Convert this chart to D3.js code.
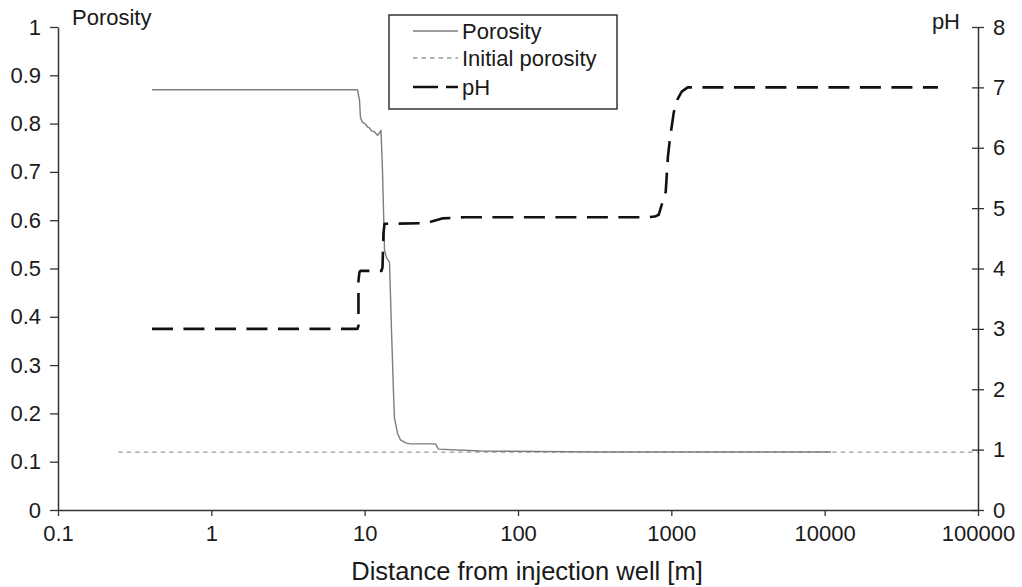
<!DOCTYPE html>
<html>
<head>
<meta charset="utf-8">
<script src="https://cdn.jsdelivr.net/npm/d3@7"></script>
<style>
  html, body { margin: 0; padding: 0; background: #fff; }
  svg { display: block; font-family: "Liberation Sans", Arial, sans-serif; }
</style>
</head>
<body>
<svg id="chart" width="1022" height="587"></svg>
<script>
// Distance from injection well [m]
const porosityX = [0.41, 8.98, 9.25, 9.39, 9.67, 10.12, 10.43, 10.75, 11.08, 11.59, 12.12, 12.5, 12.78, 13.07, 13.27, 13.47, 13.88, 14.52, 14.96, 15.42, 15.65, 16.37, 17.13, 18.5, 19.91, 29.0, 30.3, 57, 346, 11000];
const porosityY = [0.87, 0.87, 0.849, 0.812, 0.803, 0.799, 0.793, 0.791, 0.785, 0.783, 0.776, 0.781, 0.786, 0.704, 0.621, 0.538, 0.522, 0.513, 0.373, 0.242, 0.19, 0.159, 0.145, 0.139, 0.137, 0.137, 0.126, 0.122, 0.12, 0.12];

const initialX = [0.247, 100000];
const initialY = [0.12, 0.12];

const phX = [0.41, 8.98, 9.11, 9.11, 9.25, 9.39, 12.87, 13.07, 13.27, 13.47, 25, 32, 45, 700, 780, 827, 919, 950, 977, 1038, 1101, 1169, 1279, 54800];
const phY = [3.0, 3.0, 3.05, 3.8, 3.94, 3.96, 3.96, 4.02, 4.59, 4.74, 4.75, 4.83, 4.85, 4.85, 4.86, 4.89, 5.27, 5.85, 6.13, 6.59, 6.81, 6.93, 7.0, 7.0];

const xTicks = [0.1, 1, 10, 100, 1000, 10000, 100000];
const porosityTicks = [0, 0.1, 0.2, 0.3, 0.4, 0.5, 0.6, 0.7, 0.8, 0.9, 1];
const phTicks = [0, 1, 2, 3, 4, 5, 6, 7, 8];

const legendItems = ["Porosity", "Initial porosity", "pH"];

const svg = d3.select("#chart");
const plotL = 58, plotR = 978, plotT = 27, plotB = 510;
const ink = "#1a1a1a";
const axisColor = "#333";
const fontSize = "22px";

const x = d3.scaleLog().domain([0.1, 100000]).range([plotL, plotR]);
const yP = d3.scaleLinear().domain([0, 1]).range([plotB, plotT]);
const yH = d3.scaleLinear().domain([0, 8]).range([plotB, plotT]);

function styleAxis(g) {
  g.select(".domain").attr("stroke", axisColor).attr("stroke-width", 1.5);
  g.selectAll(".tick line").attr("stroke", axisColor).attr("stroke-width", 1.3);
  g.selectAll(".tick text").attr("fill", ink).style("font-size", fontSize)
    .style("font-family", "'Liberation Sans', Arial, sans-serif");
}

// Left axis: porosity
const gL = svg.append("g").attr("transform", `translate(${plotL},0)`)
  .call(d3.axisLeft(yP).tickValues(porosityTicks).tickSize(8).tickSizeOuter(0)
    .tickPadding(9).tickFormat(d => String(+d.toFixed(1))));
styleAxis(gL);

// Right axis: pH, ticks crossing the axis line
const gR = svg.append("g").attr("transform", `translate(${plotR},0)`)
  .call(d3.axisRight(yH).tickValues(phTicks).tickSize(6).tickSizeOuter(0)
    .tickPadding(9).tickFormat(d3.format("d")));
gR.selectAll(".tick line").attr("x1", -6);
styleAxis(gR);

// Bottom axis: log distance
const gB = svg.append("g").attr("transform", `translate(0,${plotB})`)
  .call(d3.axisBottom(x).tickValues(xTicks).tickSize(6).tickSizeOuter(0)
    .tickPadding(9).tickFormat(d => String(d)));
styleAxis(gB);

// Axis titles
svg.append("text").attr("x", 72).attr("y", 25).attr("fill", ink)
  .style("font-size", fontSize).text("Porosity");
svg.append("text").attr("x", 960).attr("y", 29).attr("text-anchor", "end").attr("fill", ink)
  .style("font-size", fontSize).text("pH");
svg.append("text").attr("x", 527).attr("y", 580).attr("text-anchor", "middle").attr("fill", ink)
  .style("font-size", "25.5px").text("Distance from injection well [m]");

// Series
const lineP = d3.line().x(d => x(d[0])).y(d => yP(d[1]));
const lineH = d3.line().x(d => x(d[0])).y(d => yH(d[1]));

svg.append("path").datum(d3.zip(initialX, initialY))
  .attr("d", lineP).attr("fill", "none").attr("stroke", "#9a9a9a")
  .attr("stroke-width", 1.3).attr("stroke-dasharray", "4.5,4");

svg.append("path").datum(d3.zip(porosityX, porosityY))
  .attr("d", lineP).attr("fill", "none").attr("stroke", "#7d7d7d")
  .attr("stroke-width", 1.4).attr("stroke-linejoin", "round");

svg.append("path").datum(d3.zip(phX, phY))
  .attr("d", lineH).attr("fill", "none").attr("stroke", "#111")
  .attr("stroke-width", 2.6).attr("stroke-dasharray", "21,10.5")
  .attr("stroke-linejoin", "round");

// Legend
const lg = svg.append("g");
lg.append("rect").attr("x", 389).attr("y", 15).attr("width", 228).attr("height", 94)
  .attr("fill", "#fff").attr("stroke", axisColor).attr("stroke-width", 1.5);
const rowY = [31, 58, 87];
const sampleStyles = [
  { stroke: "#7d7d7d", w: 1.4, dash: null },
  { stroke: "#9a9a9a", w: 1.3, dash: "4.5,4" },
  { stroke: "#111", w: 2.6, dash: "25,8" }
];
legendItems.forEach((name, i) => {
  const s = sampleStyles[i];
  lg.append("line").attr("x1", 413).attr("x2", 458).attr("y1", rowY[i]).attr("y2", rowY[i])
    .attr("stroke", s.stroke).attr("stroke-width", s.w)
    .attr("stroke-dasharray", s.dash);
  lg.append("text").attr("x", 462).attr("y", rowY[i]).attr("dy", "0.35em")
    .attr("fill", ink).style("font-size", fontSize).text(name);
});
</script>
</body>
</html>
